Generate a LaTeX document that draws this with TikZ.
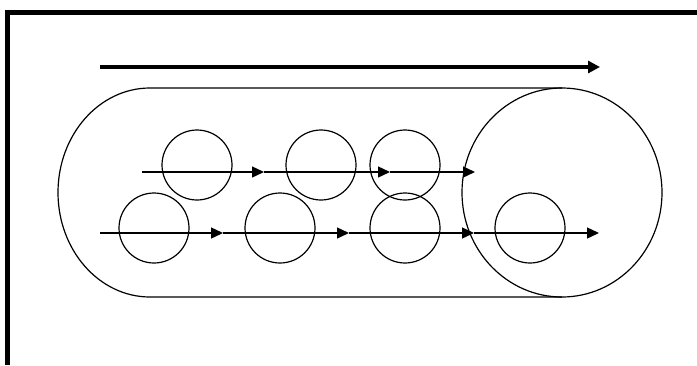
\documentclass[tikz,border=0pt]{standalone}
\usetikzlibrary{arrows.meta}

\tikzset{
  ball/.style={draw, circle, minimum size=70pt, inner sep=0pt, line width=1.2pt},
  flow/.style={line width=1.4pt, -{Triangle[length=12pt,width=11pt]}},
  bigflow/.style={line width=3.5pt, -{Triangle[length=12pt,width=12pt]}}
}

\begin{document}
\begin{tikzpicture}[x=1pt, y=-1pt]
\useasboundingbox ( 0, 0 ) rectangle ( 697, 365 );

%% Frame
\draw [line width=5pt] ( 7.5, 365 ) -- ( 7.5, 12.5 ) -- ( 697, 12.5 );

%% Tube
\draw [line width=1.2pt] ( 562, 88 ) -- ( 150, 88 ) arc [start angle=270, end angle=90, x radius=92, y radius=104.5] -- ( 562, 297 );
\draw [line width=1.2pt] ( 562, 192.5 ) ellipse [x radius=100, y radius=104.5];

%% Particles
\node [ball] (t1) at ( 197, 165 ) {};
\node [ball] (t2) at ( 321, 165 ) {};
\node [ball] (t3) at ( 405, 165 ) {};
\node [ball] (b1) at ( 154, 228 ) {};
\node [ball] (b2) at ( 280, 228 ) {};
\node [ball] (b3) at ( 405, 228 ) {};
\node [ball] (b4) at ( 530, 228 ) {};

%% Flow lines
\coordinate (main0) at ( 100, 67 );
\coordinate (main1) at ( 600, 67 );
\draw [bigflow] (main0) -- (main1);

\coordinate (u0) at ( 142, 172 );
\coordinate (u1) at ( 264, 172 );
\coordinate (u2) at ( 390, 172 );
\coordinate (u3) at ( 475, 172 );
\draw [flow] (u0) -- (u1);
\draw [flow] (u1) -- (u2);
\draw [flow] (u2) -- (u3);

\coordinate (l0) at ( 100, 233 );
\coordinate (l1) at ( 223, 233 );
\coordinate (l2) at ( 349, 233 );
\coordinate (l3) at ( 474, 233 );
\coordinate (l4) at ( 599, 233 );
\draw [flow] (l0) -- (l1);
\draw [flow] (l1) -- (l2);
\draw [flow] (l2) -- (l3);
\draw [flow] (l3) -- (l4);

\end{tikzpicture}
\end{document}
